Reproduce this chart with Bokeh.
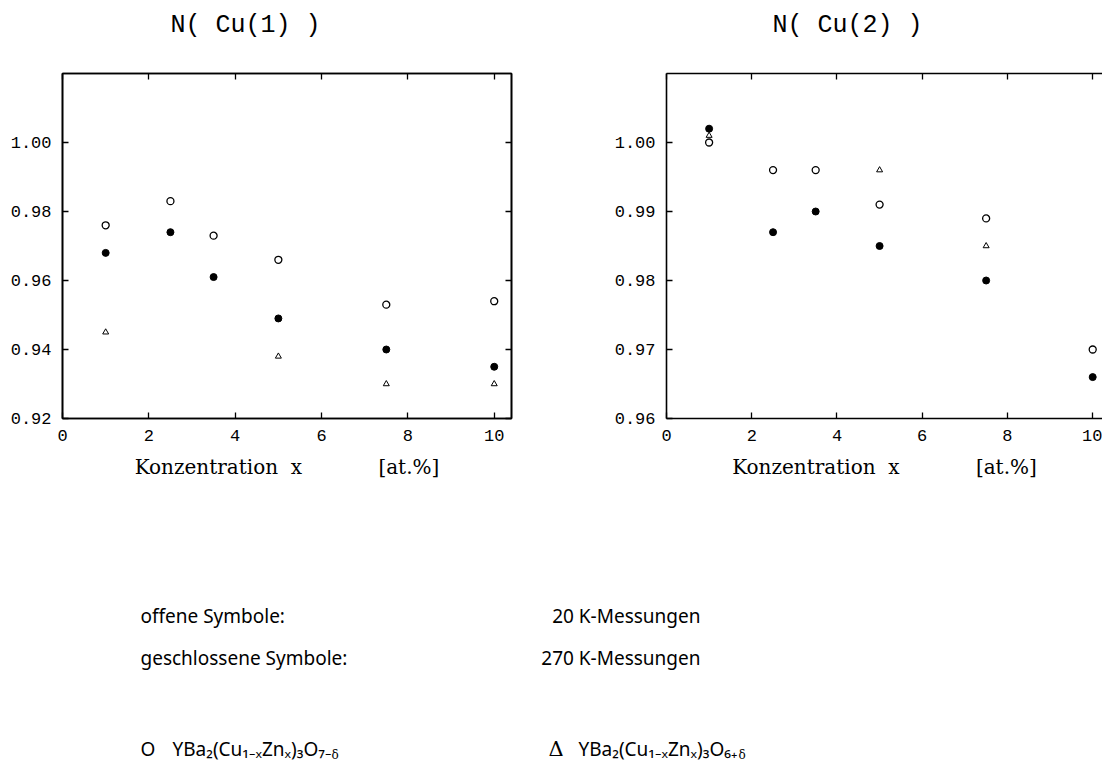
from bokeh.plotting import figure
from bokeh.models import Range1d, LinearAxis, FixedTicker, PrintfTickFormatter, CustomJSTickFormatter
from bokeh.layouts import column, row
from bokeh.core.properties import value
from bokeh.embed import file_html
from bokeh.resources import INLINE

# ---------------- data ----------------
conc = [1.0, 2.5, 3.5, 5.0, 7.5, 10.0]
cu1_open = [0.976, 0.983, 0.973, 0.966, 0.953, 0.954]      # 20 K, O7-d
cu1_filled = [0.968, 0.974, 0.961, 0.949, 0.940, 0.935]    # 270 K, O7-d
cu1_tri_x = [1.0, 5.0, 7.5, 10.0]
cu1_tri = [0.945, 0.938, 0.930, 0.930]                     # 20 K, O6+d

cu2_open = [1.000, 0.996, 0.996, 0.991, 0.989, 0.970]
cu2_filled = [1.002, 0.987, 0.990, 0.985, 0.980, 0.966]
cu2_tri_x = [1.0, 5.0, 7.5]
cu2_tri = [1.001, 0.996, 0.985]

x_ticks = [0, 2, 4, 6, 8, 10]
cu1_yticks = [0.92, 0.94, 0.96, 0.98, 1.00]
cu2_yticks = [0.96, 0.97, 0.98, 0.99, 1.00]

titles = ["N( Cu(1) )", "N( Cu(2) )"]
NB = "\u00a0"
xlabel = "Konzentration" + NB * 2 + "x" + NB * 12 + "[at.%]"
note_left = ["offene Symbole:", "geschlossene Symbole:"]
note_right = ["20 K-Messungen", "270 K-Messungen"]
formula1 = "YBa\u2082(Cu\u2081\u208b\u2093Zn\u2093)\u2083O\u2087\u208b"
formula2 = "YBa\u2082(Cu\u2081\u208b\u2093Zn\u2093)\u2083O\u2086\u208a"

MONO = "Liberation Mono"
SERIF = "DejaVu Serif"
SANS = "Noto Sans"
LW = 1.6
TOP_H = 50

blank = CustomJSTickFormatter(code="return ''")


def style_axis(ax, ticks, fmt=None, labels=True):
    ax.ticker = FixedTicker(ticks=ticks)
    ax.axis_line_width = LW
    ax.axis_line_color = "black"
    ax.major_tick_in = 6
    ax.major_tick_out = 0
    ax.major_tick_line_width = 1.3
    ax.minor_tick_line_color = None
    if labels:
        ax.formatter = fmt
        ax.major_label_text_font = MONO
        ax.major_label_text_font_size = "17px"
        ax.major_label_text_color = "black"
        ax.major_label_standoff = 11
    else:
        ax.formatter = blank
        ax.major_label_text_font_size = "1px"
        ax.major_label_standoff = 0


def make_panel(x_end, y_start, y_end, yticks, width, left, right, full_outline):
    p = figure(width=width, height=490 - TOP_H, output_backend="svg", toolbar_location=None,
               x_range=Range1d(0, x_end), y_range=Range1d(y_start, y_end),
               x_axis_location=None, y_axis_location=None,
               min_border_left=left, min_border_right=right,
               min_border_top=73 - TOP_H, min_border_bottom=72)
    p.grid.visible = False
    p.background_fill_color = "white"
    p.border_fill_color = "white"
    if full_outline:
        p.outline_line_color = "black"
        p.outline_line_width = LW
    else:
        p.outline_line_color = None
    bottom = LinearAxis(axis_label=xlabel)
    style_axis(bottom, x_ticks, PrintfTickFormatter(format="%d"))
    bottom.axis_label_text_font = SERIF
    bottom.axis_label_text_font_size = "20px"
    bottom.axis_label_text_font_style = "normal"
    bottom.axis_label_text_color = "black"
    bottom.axis_label_standoff = 11
    p.add_layout(bottom, "below")
    lefta = LinearAxis()
    style_axis(lefta, yticks, PrintfTickFormatter(format="%.2f"))
    p.add_layout(lefta, "left")
    top = LinearAxis()
    style_axis(top, x_ticks, labels=False)
    p.add_layout(top, "above")
    if full_outline:
        righta = LinearAxis()
        style_axis(righta, yticks, labels=False)
        p.add_layout(righta, "right")
    return p


def add_points(p, xo, yo, yf, xt, yt):
    p.scatter(xo, yo, marker="circle", size=7, fill_color="white",
              line_color="black", line_width=1.3)
    p.scatter(xo, yf, marker="circle", size=7, fill_color="black",
              line_color="black", line_width=1.0)
    p.scatter(xt, yt, marker="triangle", size=6, fill_color="white",
              line_color="black", line_width=1.0)


def text_canvas(height, y0):
    p = figure(width=1102, height=height, output_backend="svg", toolbar_location=None,
               x_range=Range1d(0, 1102), y_range=Range1d(y0 + height, y0),
               x_axis_location=None, y_axis_location=None, min_border=0)
    p.grid.visible = False
    p.outline_line_color = None
    return p


# ---------------- titles ----------------
p0 = text_canvas(TOP_H, 0)
p0.text(x=[170, 772], y=[25, 25], text=titles, text_align="left", text_baseline="middle",
        text_font=value(MONO), text_font_size="25px", text_color="black")

# ---------------- left panel ----------------
p1 = make_panel(10.4, 0.92, 1.02, cu1_yticks, 608, 62, 97, True)
add_points(p1, conc, cu1_open, cu1_filled, cu1_tri_x, cu1_tri)

# ---------------- right panel ----------------
p2 = make_panel(10.23, 0.96, 1.01, cu2_yticks, 494, 58, 0, False)
add_points(p2, conc, cu2_open, cu2_filled, cu2_tri_x, cu2_tri)

# ---------------- notes below ----------------
p3 = text_canvas(277, 490)
FS = 19
common = dict(text_font=value(SANS), text_font_size=f"{FS}px", text_color="black",
              text_baseline="middle")
f1x, f2x = 172, 578
p3.text(x=[140, 140], y=[615, 657], text=note_left, text_align="left", **common)
p3.text(x=[700, 700], y=[615, 657], text=note_right, text_align="right", **common)
p3.text(x=[140], y=[748], text=["O"], text_align="left", **common)
p3.text(x=[f1x], y=[748], text=[formula1], text_align="left", **common)
p3.text(x=[548], y=[748], text=["\u0394"], text_align="left",
        text_font=value(SERIF), text_font_size="21px", text_color="black", text_baseline="middle")
p3.text(x=[f2x], y=[748], text=[formula2], text_align="left", **common)
p3.text(x=[f1x + 159, f2x + 160], y=[754, 754], text=["\u03b4", "\u03b4"], text_align="left",
        text_font=value(SERIF), text_font_size="12px", text_color="black", text_baseline="middle")

layout = column(p0, row(p1, p2, spacing=0), p3, spacing=0)
open("out.html", "w").write(file_html(layout, INLINE))
